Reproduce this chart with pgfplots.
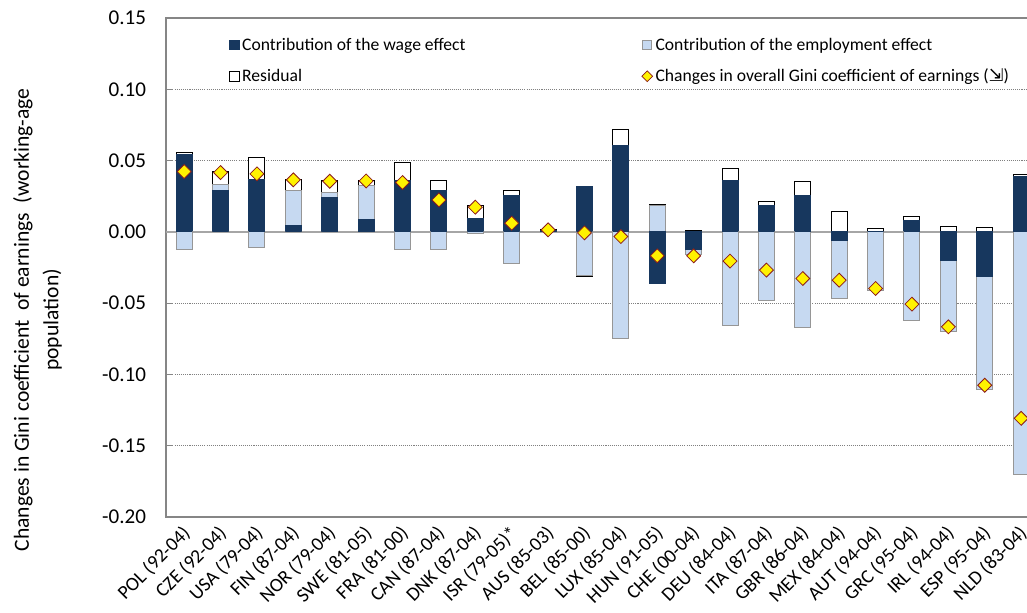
\documentclass[border=0pt]{standalone}
\usepackage{fontspec}
\setmainfont{Carlito}
\newfontfamily\symfont{DejaVu Sans}
\usepackage{pgfplots}
\pgfplotsset{compat=1.18}
\usepackage{pgfplotstable}
\definecolor{navy}{HTML}{17375E}
\definecolor{lblue}{HTML}{C6D9F1}
\definecolor{bgray}{HTML}{969696}
\definecolor{axgray}{HTML}{868686}
\definecolor{dred}{HTML}{8B1A1A}

% cumulative bounds of the stacked segments (positive side: p*, negative side: n*)
% w = wage effect, e = + employment effect, r = + residual; tot = overall change
\pgfplotstableread{
x  pw      pe      pr      nw      ne      nr      tot
0  0.0545  0.0545  0.0555  0       -0.0126 -0.0126 0.0423
1  0.0287  0.0330  0.0420  0       0       0       0.0416
2  0.0365  0.0365  0.0521  0       -0.0107 -0.0107 0.0407
3  0.0044  0.0287  0.0370  0       0       0       0.0365
4  0.0241  0.0278  0.0360  0       0       0       0.0355
5  0.0084  0.0325  0.0362  0       0       0       0.0357
6  0.0357  0.0357  0.0484  0       -0.0126 -0.0126 0.0346
7  0.0287  0.0287  0.0362  0       -0.0126 -0.0126 0.0224
8  0.0096  0.0096  0.0185  0       -0.0010 -0.0010 0.0173
9  0.0252  0.0252  0.0290  0       -0.0220 -0.0220 0.0061
10 0.0010  0.0010  0.0015  0       0       0       0.0014
11 0.0316  0.0316  0.0316  0       -0.0306 -0.0316 -0.0007
12 0.0603  0.0603  0.0715  0       -0.0745 -0.0745 -0.0033
13 0       0.0184  0.0192  -0.0362 -0.0362 -0.0362 -0.0168
14 0       0       0.0012  -0.0124 -0.0157 -0.0157 -0.0168
15 0.0363  0.0363  0.0445  0       -0.0654 -0.0654 -0.0205
16 0.0187  0.0187  0.0215  0       -0.0479 -0.0479 -0.0268
17 0.0257  0.0257  0.0353  0       -0.0673 -0.0673 -0.0327
18 0       0       0.0140  -0.0063 -0.0470 -0.0470 -0.0339
19 0       0       0.0023  0       -0.0413 -0.0413 -0.0397
20 0.0082  0.0082  0.0110  0       -0.0619 -0.0619 -0.0507
21 0       0       0.0038  -0.0203 -0.0700 -0.0700 -0.0666
22 0       0       0.0030  -0.0310 -0.1104 -0.1104 -0.1076
23 0.0390  0.0390  0.0400  0       -0.1700 -0.1700 -0.1308
}\data

\begin{document}
\begin{tikzpicture}
\useasboundingbox (-124.5pt,-71.25pt) rectangle (645.75pt,387.75pt);
\begin{axis}[
  scale only axis, width=655pt, height=374.25pt,
  at={(0,0)}, anchor=south west,
  xmin=-0.5, xmax=23.5, ymin=-0.2, ymax=0.15,
  xtick={0,...,23},
  xticklabels={POL (92-04), CZE (92-04), USA (79-04), FIN (87-04), NOR (79-04), SWE (81-05), FRA (81-00), CAN (87-04), DNK (87-04), ISR (79-05)*, AUS (85-03), BEL (85-00), LUX (85-04), HUN (91-05), CHE (00-04), DEU (84-04), ITA (87-04), GBR (86-04), MEX (84-04), AUT (94-04), GRC (95-04), IRL (94-04), ESP (95-04), NLD (83-04)},
  xtick style={draw=none},
  xticklabel style={xshift=-2.5pt, yshift=-4pt, rotate=45, anchor=north east, font=\fontsize{14.6}{16}\selectfont, inner sep=1pt},
  ytick={-0.2,-0.15,-0.1,-0.05,0,0.05,0.1,0.15},
  yticklabels={-0.20,-0.15,-0.10,-0.05,0.00,0.05,0.10,0.15},
  yticklabel style={font=\fontsize{15.8}{18}\selectfont, xshift=-11.5pt},
  ymajorgrids,
  major grid style={gray, dash pattern=on 0.8pt off 0.8pt, line width=0.6pt},
  axis line style={axgray, line width=0.9pt},
  ytick style={axgray, line width=0.75pt},
  tick align=inside, major tick length=5pt,
  extra y ticks={0}, extra y tick labels={},
  extra y tick style={grid=major, major grid style={solid, line width=1.5pt, color=gray!70}, tick style={draw=none}},
  ylabel={Changes in Gini coefficient\ \ of earnings\ \ (working-age\\population)},
  every axis y label/.style={at={([xshift=-96.4pt]axis description cs:0,0.395)}, rotate=90, anchor=center, align=center, font=\fontsize{16.2}{22}\selectfont},
  legend columns=2,
  legend cell align=left,
  legend style={draw=none, fill=none, at={(axis description cs:0.072,0.966)}, anchor=north west,
    font=\fontsize{13.2}{15}\selectfont, inner sep=0pt, row sep=8.5pt,
    /tikz/every even column/.append style={column sep=130pt}},
]
\addlegendimage{legend image code/.code={\draw[fill=navy, draw=navy, line width=0.6pt] (0pt,-3.6pt) rectangle (7.2pt,3.6pt);}}
\addlegendentry{Contribution of the wage effect}
\addlegendimage{legend image code/.code={\draw[fill=lblue, draw=bgray, line width=0.6pt] (0pt,-3.6pt) rectangle (7.2pt,3.6pt);}}
\addlegendentry{Contribution of the employment effect}
\addlegendimage{legend image code/.code={\draw[fill=white, draw=black, line width=0.6pt] (0pt,-3.6pt) rectangle (7.2pt,3.6pt);}}
\addlegendentry{Residual}
\addlegendimage{legend image code/.code={\draw[fill=yellow, draw=dred, line width=0.5pt] (3.8pt,-4pt) -- (7.8pt,0pt) -- (3.8pt,4pt) -- (-0.2pt,0pt) -- cycle;}}
\addlegendentry{Changes in overall Gini coefficient of earnings ({\symfont ⇲})}

% positive side
\addplot[ybar, bar width=12pt, bar shift=0pt, fill=white, draw=black, line width=0.75pt, forget plot] table[x=x, y=pr]{\data};
\addplot[ybar, bar width=12pt, bar shift=0pt, fill=lblue, draw=bgray, line width=0.75pt, forget plot] table[x=x, y=pe]{\data};
\addplot[ybar, bar width=12pt, bar shift=0pt, fill=navy, draw=navy, line width=0.75pt, forget plot] table[x=x, y=pw]{\data};
% negative side
\addplot[ybar, bar width=12pt, bar shift=0pt, fill=white, draw=black, line width=0.75pt, forget plot] table[x=x, y=nr]{\data};
\addplot[ybar, bar width=12pt, bar shift=0pt, fill=lblue, draw=bgray, line width=0.75pt, forget plot] table[x=x, y=ne]{\data};
\addplot[ybar, bar width=12pt, bar shift=0pt, fill=navy, draw=navy, line width=0.75pt, forget plot] table[x=x, y=nw]{\data};
% overall change
\addplot[only marks, mark=square*, mark size=3.7pt, mark options={rotate=45, fill=yellow, draw=dred, line width=0.6pt}, forget plot] table[x=x, y=tot]{\data};
\end{axis}
\end{tikzpicture}
\end{document}
